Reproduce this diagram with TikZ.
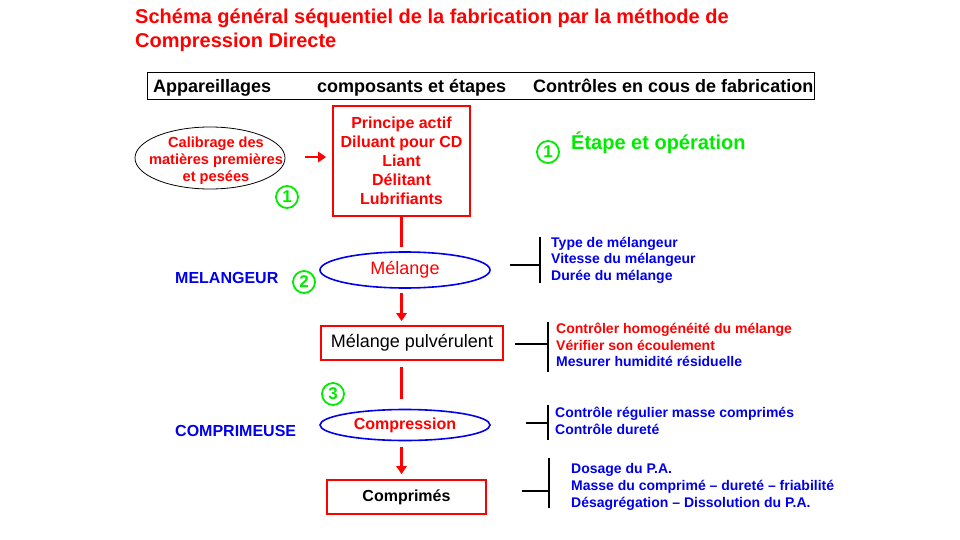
\documentclass[tikz,border=0pt]{standalone}
\usepackage{fontspec}
\setmainfont{Liberation Sans}
\usetikzlibrary{arrows.meta,shapes.geometric,calc}
\definecolor{cred}{RGB}{255,0,0}
\definecolor{cblue}{RGB}{0,0,235}
\definecolor{cgreen}{RGB}{0,235,0}
\newcommand{\fs}[2]{\fontsize{#1}{#2}\selectfont}
\tikzset{
  title/.style={anchor=base west,inner sep=0,text=cred,font=\fs{20}{24}\bfseries},
  head/.style={anchor=base west,inner sep=0,font=\fs{18}{21}\bfseries},
  redbox/.style={draw=cred,line width=1.6pt,inner sep=0,align=center},
  blueell/.style={ellipse,draw=cblue,line width=1.6pt,inner sep=0},
  num/.style={circle,draw=cgreen,line width=1.8pt,text=cgreen,minimum size=22pt,inner sep=0,font=\fs{17}{17}\bfseries},
  machine/.style={anchor=base west,inner sep=0,text=cblue,font=\fs{16}{19}\bfseries},
  ctrl/.style={anchor=west,inner sep=0,align=left,font=\fs{14}{16.6}\bfseries},
  brk/.style={line width=2.4pt,black},
  flow/.style={cred,line width=2.4pt},
  flowarr/.style={cred,line width=2.4pt,-{Triangle[width=10pt,length=8pt]}},
}
\begin{document}
\begin{tikzpicture}[x=1pt,y=-1pt]
\useasboundingbox (0,0) rectangle (960,540);
% title
\node[title] (t1) at (135,24) {Schéma général séquentiel de la fabrication par la méthode de};
\node[title] (t2) at (135,48) {Compression Directe};
% header
\node[draw=black,line width=1pt,minimum width=667pt,minimum height=27pt,inner sep=0] (hdr) at (480.5,86.5) {};
\node[head] (h1) at (153,93) {Appareillages};
\node[head] (h2) at (317,93) {composants et étapes};
\node[head] (h3) at (533,93) {Contrôles en cous de fabrication};
% calibrage
\draw[black,line width=0.8pt] (210,158) ellipse [x radius=75, y radius=31];
\node[inner sep=0,align=center,text=cred,font=\fs{14.6}{17}\bfseries] (calib) at (216,161) {Calibrage des\\matières premières\\et pesées};
\coordinate (arrs) at (305,157);
\node[num] (n1) at (287,197) {1};
% principe actif box
\node[redbox,minimum width=137pt,minimum height=110pt,text=cred,font=\fs{16}{19}\bfseries] (pa) at (401.5,161) {Principe actif\\Diluant pour CD\\Liant\\Délitant\\Lubrifiants};
\draw[flowarr] (arrs) -- ($(arrs -| pa.west)+(-6,0)$);
% legend
\node[num] (nl) at (548,152) {1};
\node[anchor=base west,inner sep=0,text=cgreen,font=\fs{20}{24}\bfseries] (leg) at (571,150) {Étape et opération};
% melange
\node[blueell,minimum width=170pt,minimum height=36pt,text=cred,font=\fs{18}{20}] (mel) at (405,270) {Mélange};
\node[machine] (m1) at (175,283) {MELANGEUR};
\node[num] (n2) at (304,282) {2};
\draw[flow] (pa.south) -- ($(pa.south |- mel.north)+(0,-4)$);
% bracket 1
\coordinate (b1a) at (510,265);
\coordinate (b1) at (540,265);
\coordinate (b1t) at (540,237);
\coordinate (b1b) at (540,283);
\draw[brk] (b1a) -- (b1);
\draw[brk] (b1t) -- (b1b);
\node[ctrl,text=cblue] (c1) at (551,260) {Type de mélangeur\\Vitesse du mélangeur\\Durée du mélange};
% melange pulverulent
\node[redbox,minimum width=182pt,minimum height=34pt,font=\fs{18}{20}] (mp) at (412,343) {Mélange pulvérulent};
\draw[flowarr] ($(pa.south |- mel.south)+(0,4)$) -- ($(pa.south |- mp.north)+(0,-4)$);
\coordinate (b2a) at (515,344);
\coordinate (b2) at (548,344);
\coordinate (b2t) at (548,322);
\coordinate (b2b) at (548,372);
\draw[brk] (b2a) -- (b2);
\draw[brk] (b2t) -- (b2b);
\node[ctrl] (c2) at (556,345) {\textcolor{cred}{Contrôler homogénéité du mélange}\\\textcolor{cred}{Vérifier son écoulement}\\\textcolor{cblue}{Mesurer humidité résiduelle}};
% compression
\node[blueell,minimum width=170pt,minimum height=31pt,text=cred,font=\fs{16}{18}\bfseries] (comp) at (405,425) {Compression};
\draw[flow] ($(pa.south |- mp.south)+(0,6)$) -- ($(pa.south |- comp.north)+(0,-10)$);
\node[num] (n3) at (333,394) {3};
\node[machine] (m2) at (175,436) {COMPRIMEUSE};
\coordinate (b3a) at (526,423);
\coordinate (b3) at (548,423);
\coordinate (b3t) at (548,405);
\coordinate (b3b) at (548,440);
\draw[brk] (b3a) -- (b3);
\draw[brk] (b3t) -- (b3b);
\node[ctrl,text=cblue] (c3) at (555,421) {Contrôle régulier masse comprimés\\Contrôle dureté};
% comprimes
\node[redbox,minimum width=159pt,minimum height=34pt,font=\fs{16}{18}\bfseries] (cp) at (406.5,497) {Comprimés};
\draw[flowarr] ($(pa.south |- comp.south)+(0,6)$) -- ($(pa.south |- cp.north)+(0,-5)$);
\coordinate (b4a) at (522,491);
\coordinate (b4) at (549,491);
\coordinate (b4t) at (549,458);
\coordinate (b4b) at (549,508);
\draw[brk] (b4a) -- (b4);
\draw[brk] (b4t) -- (b4b);
\node[ctrl,text=cblue] (c4) at (571,487) {Dosage du P.A.\\Masse du comprimé – dureté – friabilité\\Désagrégation – Dissolution du P.A.};
\end{tikzpicture}
\end{document}
